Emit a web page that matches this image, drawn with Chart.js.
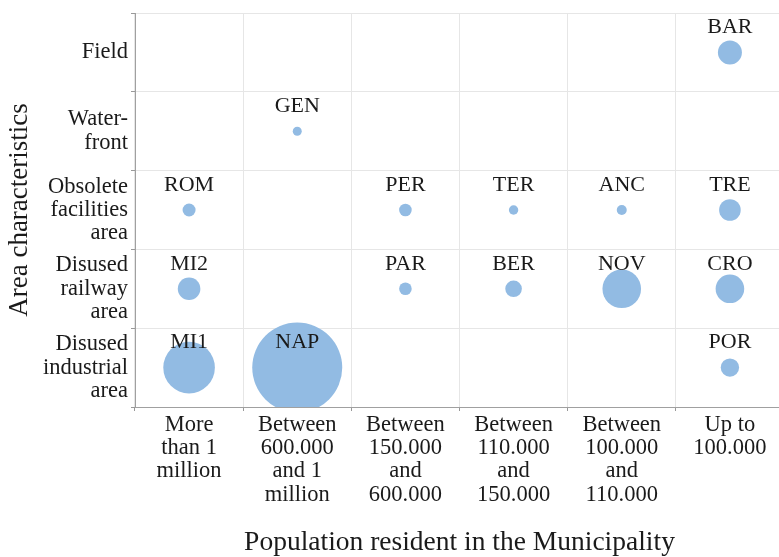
<!DOCTYPE html>
<html>
<head>
<meta charset="utf-8">
<script src="https://cdn.jsdelivr.net/npm/chart.js@4/dist/chart.umd.min.js"></script>
<style>
  html, body { margin: 0; padding: 0; background: #fff; overflow: hidden; }
  #wrap { width: 786px; height: 557px; }
</style>
</head>
<body>
<div id="wrap"><canvas id="myChart" width="786" height="557"></canvas></div>
<script>
// population classes (x) and area types (y)
var popClasses = [
	['More', 'than 1', 'million'],
	['Between', '600.000', 'and 1', 'million'],
	['Between', '150.000', 'and', '600.000'],
	['Between', '110.000', 'and', '150.000'],
	['Between', '100.000', 'and', '110.000'],
	['Up to', '100.000']
];
var areaTypes = [
	['Field'],
	['Water-', 'front'],
	['Obsolete', 'facilities', 'area'],
	['Disused', 'railway', 'area'],
	['Disused', 'industrial', 'area']
];

// one entry per city: code, population class index, area type index, bubble size
var cities  = ['BAR', 'GEN', 'ROM', 'PER', 'TER', 'ANC', 'TRE', 'MI2', 'PAR', 'BER', 'NOV', 'CRO', 'MI1', 'NAP', 'POR'];
var popIdx  = [5, 1, 0, 2, 3, 4, 5, 0, 2, 3, 4, 5, 0, 1, 5];
var areaIdx = [0, 1, 2, 2, 2, 2, 2, 3, 3, 3, 3, 3, 4, 4, 4];
var sizes   = [12, 4.5, 6.5, 6.3, 4.7, 5, 10.8, 11.3, 6.3, 8.3, 19.3, 14.3, 25.8, 45, 9.2];

var xNames = popClasses.map(function(l){ return l.join(' '); });
var yNames = areaTypes.map(function(l){ return l.join(' '); });

var points = [];
for (var i in cities) {
	points.push({ x: xNames[popIdx[i]], y: yNames[areaIdx[i]], r: sizes[i] });
}

var serif = "'Liberation Serif', 'Times New Roman', serif";

// clip bubbles to the plot, then write city codes above each bubble
var cityLabels = {
	id: 'cityLabels',
	beforeDatasetsDraw: function(chart) {
		var a = chart.chartArea;
		chart.ctx.save();
		chart.ctx.beginPath();
		chart.ctx.rect(a.left, a.top, a.right - a.left, a.bottom - a.top);
		chart.ctx.clip();
	},
	afterDatasetsDraw: function(chart) {
		var ctx = chart.ctx;
		ctx.restore();
		var meta = chart.getDatasetMeta(0);
		ctx.save();
		ctx.font = '22px ' + serif;
		ctx.fillStyle = '#1a1a1a';
		ctx.textAlign = 'center';
		ctx.textBaseline = 'middle';
		meta.data.forEach(function(pt, i) {
			ctx.fillText(cities[i], pt.x, pt.y - 25);
		});
		ctx.restore();
	}
};

// no extra room for first/last tick labels
function noPad(scale) {
	scale.paddingLeft = 0;
	scale.paddingRight = 0;
	scale.paddingTop = 0;
	scale.paddingBottom = 0;
}

var ctx = document.getElementById('myChart');
var myBubbleChart = new Chart(ctx, {
	type: 'bubble',
	data: {
		datasets: [{
			data: points,
			backgroundColor: '#92bbe3',
			borderWidth: 0,
			hoverRadius: 0,
			clip: 0
		}]
	},
	options: {
		responsive: false,
		animation: false,
		events: [],
		layout: { autoPadding: false, padding: { top: 13, right: 2, left: 0, bottom: 0 } },
		plugins: {
			legend: { display: false },
			tooltip: { enabled: false }
		},
		scales: {
			x: {
				type: 'category',
				labels: xNames,
				offset: true,
				grid: { offset: true, color: '#e6e6e6', tickColor: '#999', tickLength: 4 },
				border: { color: '#a0a0a0' },
				ticks: {
					color: '#1a1a1a',
					padding: 2,
					maxRotation: 0,
					autoSkip: false,
					font: { family: serif, size: 22.5, lineHeight: 1.04 },
					callback: function(v, i) { return popClasses[i]; }
				},
				title: {
					display: true,
					text: 'Population resident in the Municipality',
					color: '#1a1a1a',
					font: { family: serif, size: 27.5, lineHeight: 1 },
					padding: { top: 0, bottom: 0 }
				},
				afterFit: function(scale) { scale.height = 150; noPad(scale); }
			},
			y: {
				type: 'category',
				labels: yNames,
				offset: true,
				grid: { offset: true, color: '#e6e6e6', tickColor: '#999', tickLength: 4 },
				border: { color: '#a0a0a0' },
				ticks: {
					color: '#1a1a1a',
					padding: 3,
					autoSkip: false,
					font: { family: serif, size: 22.5, lineHeight: 1.04 },
					callback: function(v, i) { return areaTypes[i]; }
				},
				title: {
					display: true,
					text: 'Area characteristics',
					color: '#1a1a1a',
					font: { family: serif, size: 27, lineHeight: 1 },
					padding: { top: 6, bottom: 0 }
				},
				afterFit: function(scale) { scale.width = 135; noPad(scale); }
			}
		}
	},
	plugins: [cityLabels]
});
</script>
</body>
</html>
